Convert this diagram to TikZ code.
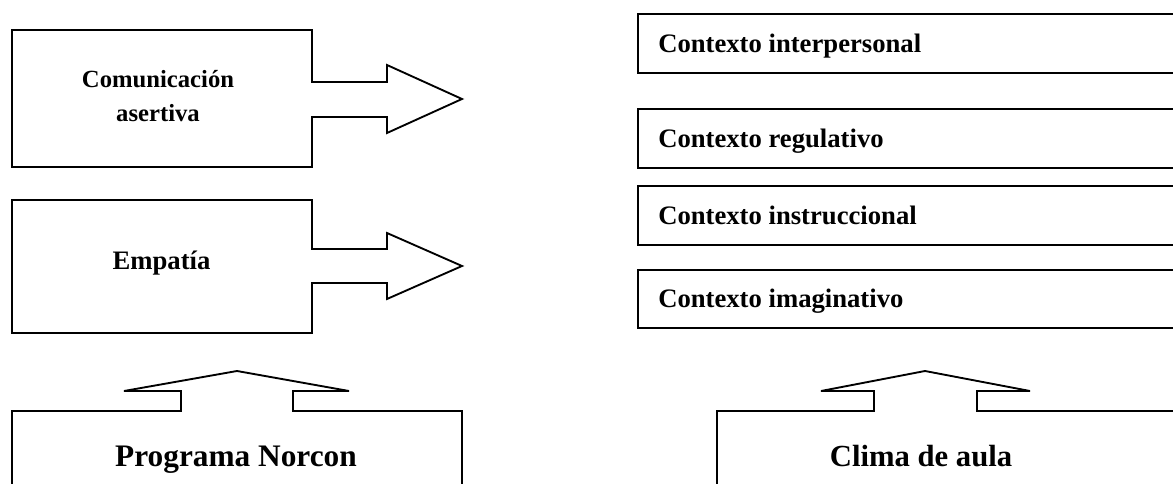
\documentclass[tikz,border=0pt]{standalone}
\usepackage{fontspec}
\setmainfont{Liberation Serif}
\tikzset{
  shapeline/.style={draw=black, line width=1.4pt, line join=miter},
  lbl/.style={inner sep=0pt, font=\bfseries},
}
\begin{document}
\begin{tikzpicture}[x=0.75pt, y=-0.75pt]
\useasboundingbox (0,0) rectangle (1173,484);
\clip (0,0) rectangle (1173,484);
% left callouts
\draw[shapeline] (12,30) -- (312,30) -- (312,82) -- (387,82) -- (387,65) -- (462,99) -- (387,133) -- (387,117) -- (312,117) -- (312,167) -- (12,167) -- cycle;
\node[lbl, align=center, font=\bfseries\fontsize{18.5}{25.5}\selectfont] (com) at (158,96) {Comunicación\\asertiva};
\draw[shapeline] (12,200) -- (312,200) -- (312,249) -- (387,249) -- (387,233) -- (462,266) -- (387,299) -- (387,283) -- (312,283) -- (312,333) -- (12,333) -- cycle;
\node[lbl, anchor=base, font=\bfseries\fontsize{20}{24}\selectfont] (emp) at (161.5,270) {Empatía};
% bottom callouts
\draw[shapeline] (12,500) -- (12,411) -- (181,411) -- (181,391) -- (124,391) -- (237,371) -- (349,391) -- (293,391) -- (293,411) -- (462,411) -- (462,500);
\node[lbl, anchor=base, font=\bfseries\fontsize{23.5}{28}\selectfont] (prog) at (236,466) {Programa Norcon};
\draw[shapeline] (717,500) -- (717,411) -- (874,411) -- (874,391) -- (821,391) -- (925,371) -- (1030,391) -- (977,391) -- (977,411) -- (1200,411);
\node[lbl, anchor=base, font=\bfseries\fontsize{23}{28}\selectfont] (clima) at (921,466) {Clima de aula};
% context boxes
\draw[shapeline] (1200,14) -- (638,14) -- (638,73) -- (1200,73);
\draw[shapeline] (1200,109) -- (638,109) -- (638,168) -- (1200,168);
\draw[shapeline] (1200,186) -- (638,186) -- (638,245) -- (1200,245);
\draw[shapeline] (1200,270) -- (638,270) -- (638,328) -- (1200,328);
\node[lbl, anchor=base west, font=\bfseries\fontsize{20}{24}\selectfont] (c1) at (658,53) {Contexto interpersonal};
\node[lbl, anchor=base west, font=\bfseries\fontsize{20}{24}\selectfont] (c2) at (658,148) {Contexto regulativo};
\node[lbl, anchor=base west, font=\bfseries\fontsize{20}{24}\selectfont] (c3) at (658,225) {Contexto instruccional};
\node[lbl, anchor=base west, font=\bfseries\fontsize{20}{24}\selectfont] (c4) at (658,308) {Contexto imaginativo};
\end{tikzpicture}
\end{document}
